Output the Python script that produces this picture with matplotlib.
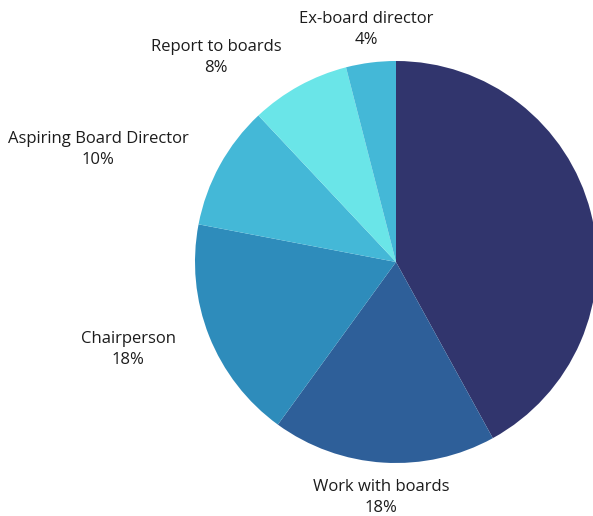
import matplotlib
matplotlib.use("Agg")
import matplotlib.pyplot as plt

categories = ["Other", "Work with boards", "Chairperson", "Aspiring Board Director",
              "Report to boards", "Ex-board director"]
values = [42, 18, 18, 10, 8, 4]
show_label = [False, True, True, True, True, True]
colors = ["#31356d", "#2e5f99", "#2e8cbb", "#44b8d7", "#6ae5e8", "#44b8d7"]

# label block centres (in units of the pie radius)
label_pos = [None, (-0.075, -1.172), (-1.333, -0.436), (-1.483, 0.559),
             (-0.896, 1.017), (-0.149, 1.156)]

W, H = 593, 516
fig = plt.figure(figsize=(W / 100, H / 100), dpi=100)
ax = fig.add_axes([0, 0, 1, 1])

cx, cy, r = 396, 262, 201
ax.pie(values, colors=colors, startangle=90, counterclock=False, radius=1,
       wedgeprops=dict(linewidth=0))

for cat, v, show, pos in zip(categories, values, show_label, label_pos):
    if show:
        ax.text(pos[0], pos[1], f"{cat}\n{v}%", ha="center", va="center",
                fontsize=12, family="Open Sans", color="#1c1c1c", linespacing=1.42)

ax.set_xlim(-cx / r, (W - cx) / r)
ax.set_ylim(-(H - cy) / r, cy / r)
ax.set_aspect("equal")
ax.axis("off")

fig.savefig("out.png", dpi=100)
